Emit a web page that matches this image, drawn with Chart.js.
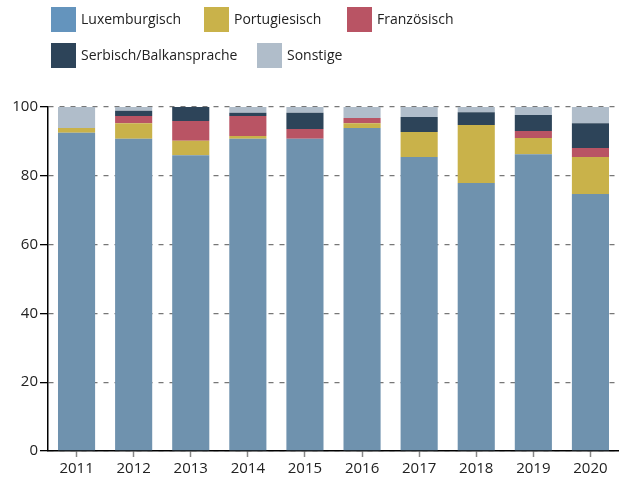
<!DOCTYPE html>
<html>
<head>
<meta charset="utf-8">
<script src="https://cdn.jsdelivr.net/npm/chart.js@4/dist/chart.umd.min.js"></script>
<style>
html,body{margin:0;padding:0;background:#fff;}
#wrap{width:619px;height:479px;position:relative;}
</style>
</head>
<body>
<div id="wrap"><canvas id="c" width="619" height="479"></canvas></div>
<script>
const years = ['2011','2012','2013','2014','2015','2016','2017','2018','2019','2020'];
const luxemburgisch = [92.5, 90.8, 86.0, 90.8, 90.8, 93.9, 85.5, 77.9, 86.3, 74.7];
const portugiesisch = [1.4, 4.5, 4.2, 0.8, 0, 1.4, 7.2, 16.9, 4.7, 10.8];
const franzoesisch = [0, 2.1, 5.7, 5.8, 2.8, 1.5, 0, 0, 2.0, 2.6];
const serbisch = [0, 1.5, 4.1, 0.9, 4.7, 0, 4.4, 3.7, 4.7, 7.2];
const sonstige = [6.1, 1.1, 0, 1.7, 1.7, 3.2, 2.9, 1.5, 2.3, 4.7];
const yTicks = [0, 20, 40, 60, 80, 100];

const FONT = '"Open Sans", "Noto Sans", sans-serif';
const barColors = ['#6f92ae', '#c9b24a', '#b95464', '#2d4459', '#b0bdca'];
const legendColors = ['#6494bd', '#c9b24a', '#b95464', '#2d4459', '#b0bdca'];

const datasets = [
  {label: 'Luxemburgisch', data: luxemburgisch},
  {label: 'Portugiesisch', data: portugiesisch},
  {label: 'Französisch', data: franzoesisch},
  {label: 'Serbisch/Balkansprache', data: serbisch},
  {label: 'Sonstige', data: sonstige}
].map((d, i) => Object.assign(d, {
  backgroundColor: barColors[i],
  borderWidth: 0,
  barPercentage: 0.65,
  categoryPercentage: 1.0
}));

// legend positions (layout only)
const legendPos = [[51, 7], [204, 7], [347, 7], [51, 43], [257, 43]];

const legendPlugin = {
  id: 'customLegend',
  afterDraw(chart) {
    const ctx = chart.ctx;
    ctx.save();
    chart.data.datasets.forEach((ds, i) => {
      const [x, y] = legendPos[i];
      ctx.fillStyle = legendColors[i];
      ctx.fillRect(x, y, 25, 25);
      ctx.fillStyle = '#222';
      ctx.font = '14px ' + FONT;
      ctx.textBaseline = 'middle';
      ctx.textAlign = 'left';
      ctx.fillText(ds.label, x + 30, y + 13);
    });
    ctx.restore();
  }
};

new Chart(document.getElementById('c'), {
  type: 'bar',
  data: {labels: years, datasets},
  plugins: [legendPlugin],
  options: {
    responsive: false,
    animation: false,
    devicePixelRatio: 1,
    layout: {padding: {top: 107, left: 0, right: 0, bottom: 0}},
    plugins: {legend: {display: false}, tooltip: {enabled: false}},
    scales: {
      x: {
        stacked: true,
        grid: {display: true, drawOnChartArea: false, offset: false, drawTicks: true,
               tickLength: 6, tickColor: '#888', tickWidth: 1.5},
        border: {display: true, color: '#000', width: 1.5},
        ticks: {color: '#222', font: {family: FONT, size: 15}, padding: 3, maxRotation: 0},
        afterFit(s) { s.height = 28; }
      },
      y: {
        stacked: true,
        min: 0, max: 100,
        afterBuildTicks(s) { s.ticks = yTicks.map(v => ({value: v})); },
        grid: {color: '#777', lineWidth: 1.3, drawTicks: true, tickLength: 8,
               tickColor: '#000', tickWidth: 1.3, tickBorderDash: []},
        border: {display: true, color: '#000', width: 1.5, dash: [5, 6]},
        ticks: {color: '#222', font: {family: FONT, size: 15}, padding: 2},
        afterFit(s) { s.width = 48; }
      }
    }
  }
});
</script>
</body>
</html>
